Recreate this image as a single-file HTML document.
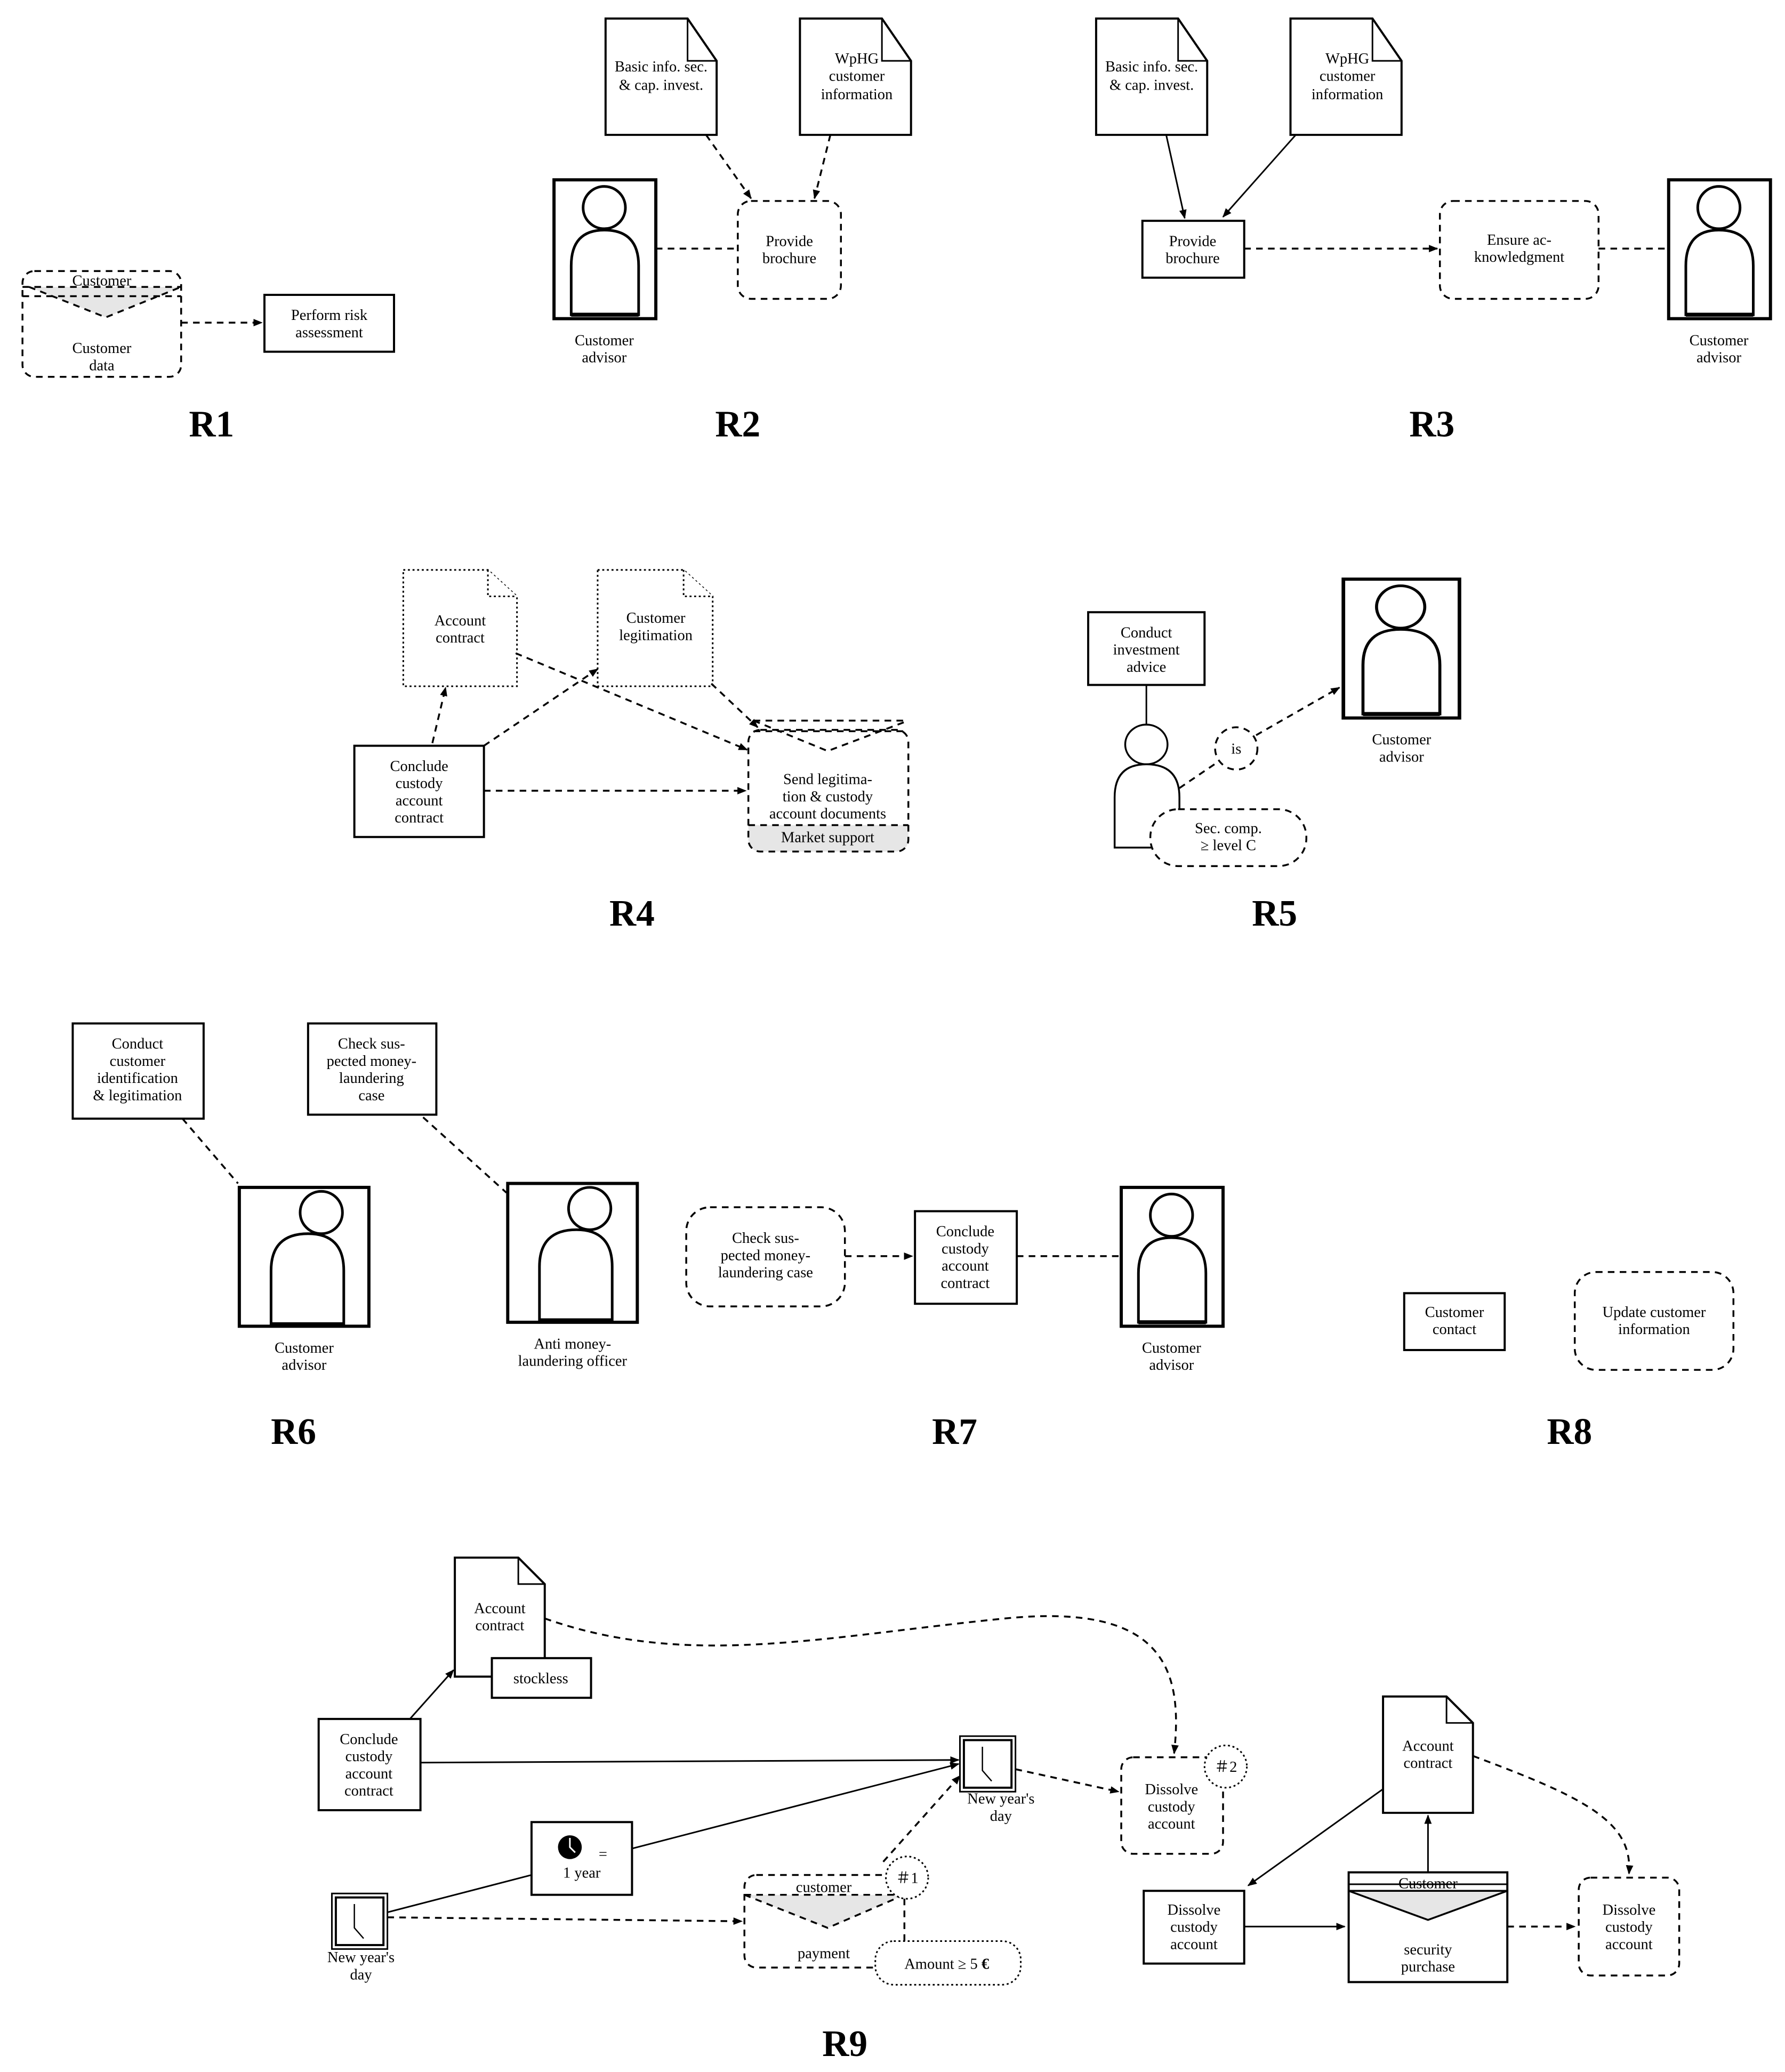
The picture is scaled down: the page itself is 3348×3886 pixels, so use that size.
<!DOCTYPE html>
<html><head><meta charset="utf-8"><style>
html,body{margin:0;padding:0;background:#fff}
svg{display:block}
text{font-family:"Liberation Serif",serif;font-size:11.5px;text-anchor:middle;fill:#000}
.R{font-size:28px;font-weight:bold}
.s{fill:none;stroke:#000;stroke-width:1.2}
.t{fill:#fff;stroke:#000;stroke-width:1.6}
.d{fill:none;stroke:#000;stroke-width:1.4;stroke-dasharray:5 4}
.dw{fill:#fff;stroke:#000;stroke-width:1.4;stroke-dasharray:5 4}
.o{fill:#fff;stroke:#000;stroke-width:1.2;stroke-dasharray:1.5 2}
.g{fill:#e6e6e6}
</style></head><body>
<svg width="3348" height="3886" viewBox="0 0 1350 1567" preserveAspectRatio="none" xmlns="http://www.w3.org/2000/svg">
<defs>
<marker id="a" viewBox="0 0 10 10" refX="9" refY="5" markerWidth="7" markerHeight="7" orient="auto" markerUnits="userSpaceOnUse"><path d="M0,1 L10,5 L0,9 z" fill="#000"/></marker>
<g id="act"><rect x="0" y="0" width="77" height="105" fill="#fff" stroke="#000" stroke-width="2.4"/><circle cx="38" cy="21" r="16" fill="#fff" stroke="#000" stroke-width="2"/><path d="M13,102 L13,65 Q13,38 38,38 Q64,38 64,65 L64,102 Z" fill="#fff" stroke="#000" stroke-width="2"/><line x1="13" y1="102" x2="64" y2="102" stroke="#000" stroke-width="3"/></g>
<g id="act2"><rect x="0" y="0" width="98" height="105" fill="#fff" stroke="#000" stroke-width="2.4"/><circle cx="62" cy="19" r="16" fill="#fff" stroke="#000" stroke-width="2"/><path d="M24,103 L24,63 Q24,35 52,35 Q79,35 79,63 L79,103 Z" fill="#fff" stroke="#000" stroke-width="2"/></g>
<g id="doc"><path d="M0,0 L62,0 L84,32 L84,88 L0,88 Z" class="t"/><path d="M62,0 L62,32 L84,32" class="s"/></g>
<g id="clk"><rect x="0" y="0" width="42" height="42" fill="#fff" stroke="#000" stroke-width="1.2"/><rect x="3" y="3" width="36" height="36" fill="none" stroke="#000" stroke-width="1.6"/><path d="M17,8 L17,26 L24,34" fill="none" stroke="#000" stroke-width="1"/></g>
</defs>

<!-- R1 -->
<rect x="17" y="205" width="120" height="80" rx="9" class="d"/>
<text x="77" y="216">Customer</text>
<path d="M22,217 L137,217 L80,240 Z" class="g"/>
<path d="M17,217 L137,217 M17,224 L137,224 M22,217 L80,240 L137,217" class="d"/>
<text x="77" y="267">Customer</text><text x="77" y="280">data</text>
<line x1="137" y1="244" x2="198" y2="244" class="d" marker-end="url(#a)"/>
<rect x="200" y="223" width="98" height="43" class="t"/>
<text x="249" y="242">Perform risk</text><text x="249" y="255">assessment</text>
<text x="160" y="330" class="R">R1</text>

<!-- R2 -->
<use href="#doc" x="458" y="14"/>
<text x="500" y="54">Basic info. sec.</text><text x="500" y="68">&amp; cap. invest.</text>
<use href="#doc" x="605" y="14"/>
<text x="648" y="48">WpHG</text><text x="648" y="61">customer</text><text x="648" y="75">information</text>
<use href="#act" x="419" y="136"/>
<text x="457" y="261">Customer</text><text x="457" y="274">advisor</text>
<line x1="496" y1="188" x2="558" y2="188" class="d"/>
<rect x="558" y="152" width="78" height="74" rx="10" class="d"/>
<text x="597" y="186">Provide</text><text x="597" y="199">brochure</text>
<line x1="534" y1="102" x2="568" y2="150" class="d" marker-end="url(#a)"/>
<line x1="628" y1="102" x2="616" y2="150" class="d" marker-end="url(#a)"/>
<text x="558" y="330" class="R">R2</text>

<!-- R3 -->
<use href="#doc" x="829" y="14"/>
<text x="871" y="54">Basic info. sec.</text><text x="871" y="68">&amp; cap. invest.</text>
<use href="#doc" x="976" y="14"/>
<text x="1019" y="48">WpHG</text><text x="1019" y="61">customer</text><text x="1019" y="75">information</text>
<line x1="882" y1="102" x2="896" y2="165" class="s" marker-end="url(#a)"/>
<line x1="980" y1="102" x2="925" y2="164" class="s" marker-end="url(#a)"/>
<rect x="864" y="167" width="77" height="43" class="t"/>
<text x="902" y="186">Provide</text><text x="902" y="199">brochure</text>
<line x1="941" y1="188" x2="1087" y2="188" class="d" marker-end="url(#a)"/>
<rect x="1089" y="152" width="120" height="74" rx="10" class="d"/>
<text x="1149" y="185">Ensure ac-</text><text x="1149" y="198">knowledgment</text>
<line x1="1209" y1="188" x2="1260" y2="188" class="d"/>
<use href="#act" x="1262" y="136"/>
<text x="1300" y="261">Customer</text><text x="1300" y="274">advisor</text>
<text x="1083" y="330" class="R">R3</text>

<!-- R4 -->
<path d="M305,431 L369,431 L391,451 L391,519 L305,519 Z" class="o"/><path d="M369,431 L369,451 L391,451" class="o"/>
<text x="348" y="473">Account</text><text x="348" y="486">contract</text>
<path d="M452,431 L517,431 L539,451 L539,519 L452,519 Z" class="o"/><path d="M517,431 L517,451 L539,451" class="o"/>
<text x="496" y="471">Customer</text><text x="496" y="484">legitimation</text>
<rect x="268" y="564" width="98" height="69" class="t"/>
<text x="317" y="583">Conclude</text><text x="317" y="596">custody</text><text x="317" y="609">account</text><text x="317" y="622">contract</text>
<line x1="327" y1="562" x2="337" y2="520" class="d" marker-end="url(#a)"/>
<line x1="366" y1="564" x2="452" y2="506" class="d" marker-end="url(#a)"/>
<line x1="390" y1="494" x2="565" y2="567" class="d" marker-end="url(#a)"/>
<line x1="538" y1="517" x2="573" y2="550" class="d" marker-end="url(#a)"/>
<line x1="366" y1="598" x2="564" y2="598" class="d" marker-end="url(#a)"/>
<path d="M566,624 L687,624 L687,634 Q687,644 677,644 L576,644 Q566,644 566,634 Z" class="g"/>
<rect x="566" y="552" width="121" height="92" rx="9" class="d"/>
<path d="M570,545 L687,545 M570,553 L687,553 M570,545 L626,568 L687,545 M566,624 L687,624" class="d"/>
<text x="626" y="593">Send legitima-</text><text x="626" y="606">tion &amp; custody</text><text x="626" y="619">account documents</text>
<text x="626" y="637">Market support</text>
<text x="478" y="700" class="R">R4</text>

<!-- R5 -->
<rect x="823" y="463" width="88" height="55" class="t"/>
<text x="867" y="482">Conduct</text><text x="867" y="495">investment</text><text x="867" y="508">advice</text>
<line x1="867" y1="518" x2="867" y2="548" class="s"/>
<ellipse cx="867" cy="563" rx="16" ry="15" fill="#fff" stroke="#000" stroke-width="1.4"/>
<path d="M843,641 L843,603 Q843,578 867,578 Q892,578 892,603 L892,641 Z" fill="#fff" stroke="#000" stroke-width="1.4"/>
<line x1="892" y1="596" x2="920" y2="577" class="d"/>
<ellipse cx="935" cy="566" rx="16" ry="16" class="dw"/><text x="935" y="570">is</text>
<line x1="950" y1="556" x2="1013" y2="520" class="d" marker-end="url(#a)"/>
<rect x="870" y="612" width="118" height="43" rx="21" class="dw"/>
<text x="929" y="630">Sec. comp.</text><text x="929" y="643">≥ level C</text>
<use href="#act" x="1016" y="438" transform="translate(1016 438) scale(1.14 1) translate(-1016 -438)"/>
<text x="1060" y="563">Customer</text><text x="1060" y="576">advisor</text>
<text x="964" y="700" class="R">R5</text>

<!-- R6 -->
<rect x="55" y="774" width="99" height="72" class="t"/>
<text x="104" y="793">Conduct</text><text x="104" y="806">customer</text><text x="104" y="819">identification</text><text x="104" y="832">&amp; legitimation</text>
<line x1="138" y1="846" x2="180" y2="895" class="d"/>
<use href="#act2" x="181" y="898"/>
<text x="230" y="1023">Customer</text><text x="230" y="1036">advisor</text>
<rect x="233" y="774" width="97" height="69" class="t"/>
<text x="281" y="793">Check sus-</text><text x="281" y="806">pected money-</text><text x="281" y="819">laundering</text><text x="281" y="832">case</text>
<line x1="320" y1="845" x2="383" y2="902" class="d"/>
<use href="#act2" x="384" y="895"/>
<text x="433" y="1020">Anti money-</text><text x="433" y="1033">laundering officer</text>
<text x="222" y="1092" class="R">R6</text>

<!-- R7 -->
<rect x="519" y="913" width="120" height="75" rx="18" class="d"/>
<text x="579" y="940">Check sus-</text><text x="579" y="953">pected money-</text><text x="579" y="966">laundering case</text>
<line x1="639" y1="950" x2="690" y2="950" class="d" marker-end="url(#a)"/>
<rect x="692" y="916" width="77" height="70" class="t"/>
<text x="730" y="935">Conclude</text><text x="730" y="948">custody</text><text x="730" y="961">account</text><text x="730" y="974">contract</text>
<line x1="769" y1="950" x2="846" y2="950" class="d"/>
<use href="#act" x="848" y="898"/>
<text x="886" y="1023">Customer</text><text x="886" y="1036">advisor</text>
<text x="722" y="1092" class="R">R7</text>

<!-- R8 -->
<rect x="1062" y="978" width="76" height="43" class="t"/>
<text x="1100" y="996">Customer</text><text x="1100" y="1009">contact</text>
<rect x="1191" y="962" width="120" height="74" rx="16" class="d"/>
<text x="1251" y="996">Update customer</text><text x="1251" y="1009">information</text>
<text x="1187" y="1092" class="R">R8</text>

<!-- R9 -->
<path d="M412,1224 C520,1262 620,1238 760,1224 C880,1212 895,1262 888,1326" class="d" marker-end="url(#a)"/>
<path d="M344,1178 L392,1178 L412,1198 L412,1268 L344,1268 Z" class="t"/><path d="M392,1178 L392,1198 L412,1198" class="s"/>
<text x="378" y="1220">Account</text><text x="378" y="1233">contract</text>
<rect x="372" y="1254" width="75" height="30" class="t"/><text x="409" y="1273">stockless</text>
<rect x="241" y="1300" width="77" height="69" class="t"/>
<text x="279" y="1319">Conclude</text><text x="279" y="1332">custody</text><text x="279" y="1345">account</text><text x="279" y="1358">contract</text>
<line x1="310" y1="1300" x2="343" y2="1263" class="s" marker-end="url(#a)"/>
<line x1="318" y1="1333" x2="725" y2="1331" class="s" stroke-width="1.5" marker-end="url(#a)"/>
<use href="#clk" x="726" y="1313"/>
<text x="757" y="1364">New year's</text><text x="757" y="1377">day</text>
<line x1="768" y1="1338" x2="846" y2="1355" class="d" marker-end="url(#a)"/>
<rect x="848" y="1329" width="77" height="73" rx="9" class="d"/>
<text x="886" y="1357">Dissolve</text><text x="886" y="1370">custody</text><text x="886" y="1383">account</text>
<circle cx="927" cy="1336" r="16" class="o"/><text x="927" y="1340">＃2</text>
<line x1="290" y1="1447" x2="402" y2="1418" class="s" stroke-width="1.5"/>
<rect x="402" y="1378" width="76" height="55" class="t"/>
<circle cx="431" cy="1397" r="9" fill="#000"/><path d="M431,1390 L431,1397 L435,1401" stroke="#fff" stroke-width="1.2" fill="none"/>
<text x="456" y="1406">=</text><text x="440" y="1420">1 year</text>
<line x1="478" y1="1398" x2="725" y2="1334" class="s" stroke-width="1.5" marker-end="url(#a)"/>
<use href="#clk" x="251" y="1432"/>
<text x="273" y="1484">New year's</text><text x="273" y="1497">day</text>
<line x1="293" y1="1450" x2="561" y2="1453" class="d" marker-end="url(#a)"/>
<text x="623" y="1431">customer</text>
<path d="M563,1433 L684,1433 L626,1458 Z" class="g"/>
<rect x="563" y="1418" width="121" height="70" rx="9" class="d"/>
<path d="M563,1433 L684,1433 M563,1433 L626,1458 L684,1433" class="d"/>
<text x="623" y="1481">payment</text>
<line x1="668" y1="1408" x2="726" y2="1343" class="d" marker-end="url(#a)"/>
<circle cx="686" cy="1420" r="16" class="o"/><text x="686" y="1424">＃1</text>
<rect x="662" y="1468" width="110" height="33" rx="14" class="o"/>
<text x="716" y="1489">Amount ≥ 5 <tspan font-weight="bold">€</tspan></text>
<path d="M1046,1283 L1094,1283 L1114,1303 L1114,1371 L1046,1371 Z" class="t"/><path d="M1094,1283 L1094,1303 L1114,1303" class="s"/>
<text x="1080" y="1324">Account</text><text x="1080" y="1337">contract</text>
<path d="M1114,1328 C1200,1360 1235,1378 1232,1417" class="d" marker-end="url(#a)"/>
<line x1="1046" y1="1353" x2="944" y2="1426" class="s" marker-end="url(#a)"/>
<rect x="865" y="1430" width="76" height="55" class="t"/>
<text x="903" y="1448">Dissolve</text><text x="903" y="1461">custody</text><text x="903" y="1474">account</text>
<line x1="941" y1="1457" x2="1017" y2="1457" class="s" stroke-width="1.5" marker-end="url(#a)"/>
<rect x="1020" y="1416" width="120" height="83" class="t"/>
<text x="1080" y="1428">Customer</text>
<line x1="1020" y1="1425" x2="1140" y2="1425" class="s"/>
<path d="M1020,1430 L1140,1430 L1080,1452 Z" fill="#e6e6e6" stroke="#000" stroke-width="1.4"/>
<text x="1080" y="1478">security</text><text x="1080" y="1491">purchase</text>
<line x1="1080" y1="1416" x2="1080" y2="1373" class="s" marker-end="url(#a)"/>
<line x1="1140" y1="1457" x2="1191" y2="1457" class="d" marker-end="url(#a)"/>
<rect x="1194" y="1420" width="76" height="74" rx="9" class="d"/>
<text x="1232" y="1448">Dissolve</text><text x="1232" y="1461">custody</text><text x="1232" y="1474">account</text>
<text x="639" y="1555" class="R">R9</text>
</svg>
</body></html>
